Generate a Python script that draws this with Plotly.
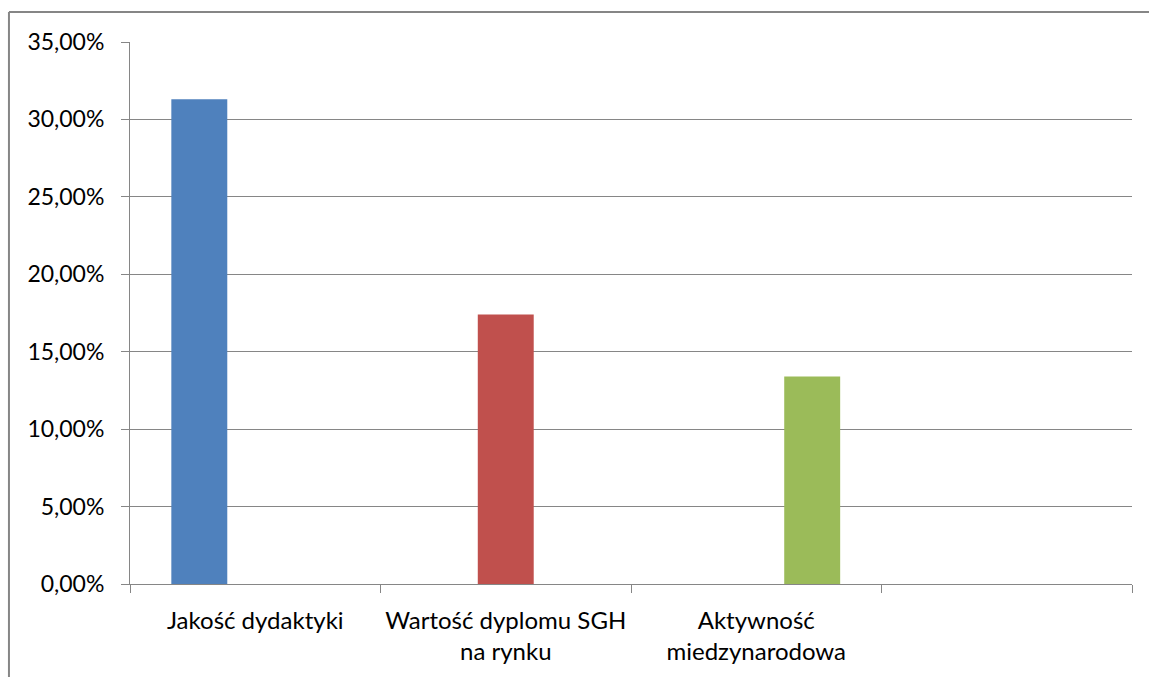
import plotly.graph_objects as go

# Category slots on the x axis (the fourth slot is left empty)
categories = [
    "Jakość dydaktyki",
    "Wartość dyplomu SGH<br>na rynku",
    "Aktywność<br>miedzynarodowa",
    " ",
]

# One series per category, each with a value only in its own slot
series_names = ["Jakość dydaktyki", "Wartość dyplomu SGH na rynku", "Aktywność miedzynarodowa"]
series_values = [
    [0.313, None, None, None],
    [None, 0.174, None, None],
    [None, None, 0.134, None],
]
series_colors = ["#4F81BD", "#C0504D", "#9BBB59"]

FONT = "Lato"
GRID = "#868686"

fig = go.Figure()
for name, vals, color in zip(series_names, series_values, series_colors):
    fig.add_trace(go.Bar(x=categories, y=vals, name=name, marker=dict(color=color, line=dict(width=0))))

fig.update_layout(
    width=1149,
    height=677,
    barmode="group",
    bargap=0.33,
    bargroupgap=0,
    showlegend=False,
    separators=", ",
    plot_bgcolor="white",
    paper_bgcolor="white",
    margin=dict(l=130, r=17, t=42, b=93),
    font=dict(family=FONT, size=23, color="#000000"),
    xaxis=dict(
        type="category",
        categoryorder="array",
        categoryarray=categories,
        range=[-0.5, 3.5],
        showline=True,
        linecolor=GRID,
        linewidth=1,
        ticks="outside",
        tickson="boundaries",
        ticklen=8,
        tickcolor=GRID,
        tickwidth=1,
        showgrid=False,
        tickfont=dict(size=24),
        ticklabelstandoff=15,
    ),
    yaxis=dict(
        range=[0, 0.35],
        dtick=0.05,
        tickformat=".2%",
        showline=True,
        linecolor=GRID,
        linewidth=1,
        showgrid=True,
        gridcolor=GRID,
        gridwidth=1,
        zeroline=False,
        ticks="outside",
        ticklen=8,
        tickcolor=GRID,
        tickwidth=1,
        ticklabelstandoff=12,
    ),
    shapes=[
        # chart frame, running off the right and bottom edges
        dict(type="line", xref="paper", yref="paper", x0=-0.1208, x1=1.2, y0=1.0554, y1=1.0554,
             line=dict(color=GRID, width=2)),
        dict(type="line", xref="paper", yref="paper", x0=-0.1208, x1=-0.1208, y0=1.0554, y1=-0.3,
             line=dict(color=GRID, width=2)),
    ],
)

fig.write_html("out.html")
